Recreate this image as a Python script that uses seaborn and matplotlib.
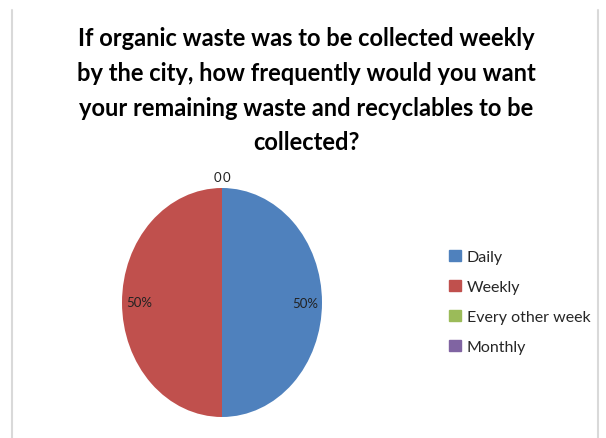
import matplotlib.pyplot as plt
import matplotlib.lines as mlines
import seaborn as sns

categories = ['Daily', 'Weekly', 'Every other week', 'Monthly']
values = [50, 50, 0, 0]
colors = ['#4F81BD', '#C0504D', '#9BBB59', '#8064A2']

sns.set_theme(style='white')
plt.rcParams['font.family'] = ['Lato', 'DejaVu Sans']

fig = plt.figure(figsize=(6.06, 4.39), dpi=100)
ax = fig.add_axes([122 / 606, 21 / 439, 200 / 606, 229 / 439])

palette = sns.color_palette(colors)
labels = ['' if v else '0' for v in values]
wedges, texts, autotexts = ax.pie(values, colors=palette, startangle=90, counterclock=False,
                                  labels=labels, labeldistance=1.1,
                                  autopct=lambda p: '%d%%' % round(p) if p > 0 else '',
                                  pctdistance=0.83,
                                  wedgeprops={'linewidth': 0},
                                  textprops={'fontsize': 9.5, 'color': '#222222'})
ax.set_aspect('auto')
ax.set_xlim(-1, 1)
ax.set_ylim(-1, 1)

# the two zero slices sit side by side at the top
zeros = [t for t in texts if t.get_text()]
for i, t in enumerate(zeros):
    x, y = t.get_position()
    t.set_position((x + (i - (len(zeros) - 1) / 2) * 0.09, y))
    t.set_ha('center')

handles = [plt.Rectangle((0, 0), 1, 1, color=c) for c in palette]
fig.legend(handles, categories, loc='center left', bbox_to_anchor=(435 / 606, 1 - 303 / 439),
           frameon=False, fontsize=11.5, handlelength=0.7, handleheight=0.7,
           handletextpad=0.4, labelspacing=1.0)

fig.text(0.505, 1 - 27 / 439,
         'If organic waste was to be collected weekly\nby the city, how frequently would you want\n'
         'your remaining waste and recyclables to be\ncollected?',
         ha='center', va='top', fontsize=17, fontweight='bold', linespacing=1.62, color='black')

for xp in (12 / 606, 598 / 606):
    fig.add_artist(mlines.Line2D([xp, xp], [0, 1 - 11 / 439], color='#D9D9D9', lw=1.5))

fig.savefig('out.png', dpi=100)
